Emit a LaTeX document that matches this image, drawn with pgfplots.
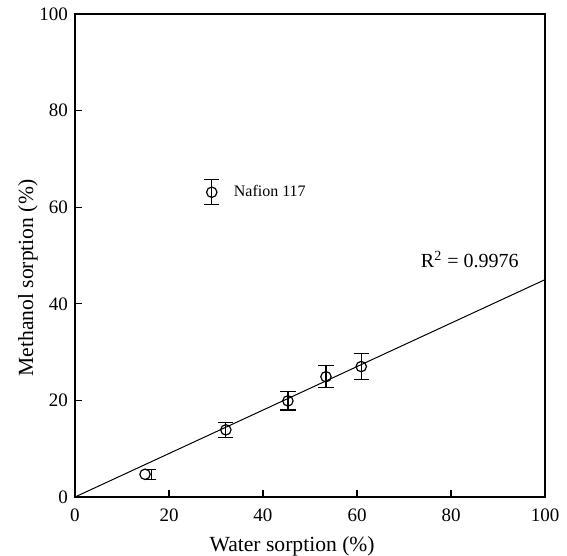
\documentclass[border=0pt]{standalone}
\usepackage{pgfplots}
\pgfplotsset{compat=1.18}
\usepackage{fontspec}
\setmainfont{Liberation Serif}

\begin{document}
\begin{tikzpicture}
\begin{axis}[
  scale only axis, width=235pt, height=241.5pt,
  xmin=0, xmax=100, ymin=0, ymax=100,
  xtick={0,20,...,100}, ytick={0,20,...,100},
  tick align=inside, xtick pos=bottom, ytick pos=left,
  major tick length=3.5pt,
  axis line style={line width=0.8pt},
  tick style={line width=0.6pt, black},
  ticklabel style={font=\fontsize{9.5}{10}\selectfont},
  xticklabel style={yshift=-2.5pt},
  /pgf/number format/assume math mode=true,
  xlabel={Water sorption (\%)},
  ylabel={Methanol sorption (\%)},
  label style={font=\fontsize{10.8}{12}\selectfont},
  xlabel style={at={(axis description cs:0.462,-0.103)}, anchor=center},
  ylabel style={at={(axis description cs:-0.1,0.453)}, anchor=center},
  clip=false,
]
% fitted line
\addplot[black, line width=0.5pt, mark=none] coordinates {(0,0) (100,45)};
% offset error bar of first sample
\addplot[black, mark=none, line width=0.5pt,
  error bars/.cd, y dir=both, y explicit,
  error bar style={line width=0.6pt},
  error mark options={rotate=90, mark size=2.5pt, line width=0.6pt}]
  coordinates {(16.2,4.7) +- (0,1.0)};
% data with error bars
\addplot[black, only marks, mark=o, mark size=2.6pt,
  mark options={fill=white, line width=0.6pt},
  error bars/.cd, y dir=both, y explicit,
  error bar style={line width=0.6pt},
  error mark options={rotate=90, mark size=3.8pt, line width=0.6pt}]
  coordinates {
    (32.1,13.9) +- (0,1.5)
    (45.3,19.9) +- (0,1.9)
    (53.4,24.9) +- (0,2.3)
    (60.9,27.0) +- (0,2.65)
    (29.1,63.1) +- (0,2.6)
  };
\addplot[black, only marks, mark=o, mark size=2.6pt,
  mark options={fill=white, line width=0.6pt}]
  coordinates {(14.9,4.7)};
\node[anchor=west, font=\fontsize{8}{9}\selectfont] at (axis cs:32.3,63.3) {Nafion 117};
\node[font=\fontsize{10}{12}\selectfont] at (axis cs:84,49.2) {R\textsuperscript{2} = 0.9976};
\end{axis}
\pgfresetboundingbox
\useasboundingbox (-37.5pt,-29.5pt) rectangle (246pt,248.5pt);
\end{tikzpicture}
\end{document}
